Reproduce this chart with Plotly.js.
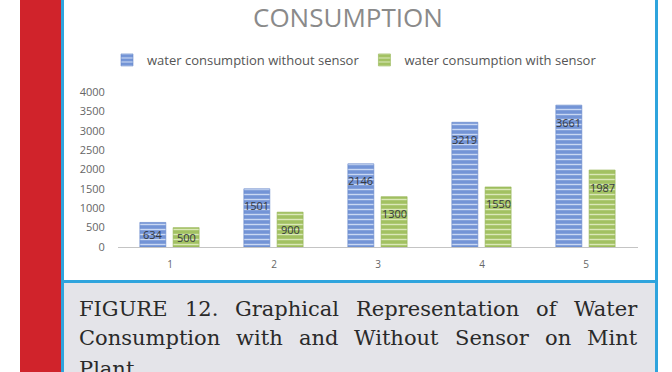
<!DOCTYPE html>
<html><head><meta charset="utf-8">
<script src="https://cdn.plot.ly/plotly-3.0.1.min.js"></script>
<style>html,body{margin:0;padding:0;background:#fff}#chart{width:672px;height:372px}</style>
</head><body><div id="chart"></div>
<script>
// ---- data ----
const categories = [1, 2, 3, 4, 5];
const tickLabels = ['1', '2', '3', '4', '5'];
const withoutSensor = [634, 1501, 2146, 3219, 3661];
const withSensor = [500, 900, 1300, 1550, 1987];
const seriesNames = ['water consumption without sensor', 'water consumption with sensor'];
const yTicks = [0, 500, 1000, 1500, 2000, 2500, 3000, 3500, 4000];
const yTickLabels = ['0', '500', '1000', '1500', '2000', '2500', '3000', '3500', '4000'];
const titleText = 'CONSUMPTION';
const captionLines = [
  'FIGURE 12. Graphical Representation of Water',
  'Consumption with and Without Sensor on Mint',
  'Plant'
];

// ---- layout geometry ----
const W = 672, H = 372;
const M = {l: 118, r: 34, t: 92, b: 125};
const PW = W - M.l - M.r, PH = H - M.t - M.b;
const px = x => (x - M.l) / PW;
const py = y => (H - M.b - y) / PH;
const Y_MAX = 4000;

const BAR_W = 0.25, OFF_A = -0.29, OFF_B = 0.03;
const blue = '#7394d6', green = '#a2c162';

const traces = [
  {type: 'bar', name: seriesNames[0], x: categories, y: withoutSensor,
   width: BAR_W, offset: OFF_A, hoverinfo: 'skip',
   marker: {color: blue, line: {color: '#6587c9', width: 0.6},
     pattern: {shape: '-', fgcolor: '#c9d8f3', bgcolor: blue, size: 5, solidity: 0.28}}},
  {type: 'bar', name: seriesNames[1], x: categories, y: withSensor,
   width: BAR_W, offset: OFF_B, hoverinfo: 'skip',
   marker: {color: green, line: {color: '#93b352', width: 0.6},
     pattern: {shape: '-', fgcolor: '#dbe8b8', bgcolor: green, size: 5, solidity: 0.28}}}
];

const annotations = [];
// value labels inside bars
const labelDrop = 17 * Y_MAX / PH;
[[withoutSensor, OFF_A], [withSensor, OFF_B]].forEach(([vals, off]) => {
  vals.forEach((v, i) => {
    annotations.push({xref: 'x', yref: 'y', x: categories[i] + off + BAR_W / 2,
      y: Math.max(v - labelDrop, v / 2), text: String(v), showarrow: false,
      font: {family: 'Open Sans', size: 11, color: '#34383f'}});
  });
});
// title
annotations.push({xref: 'paper', yref: 'paper', x: px(348), y: py(17.5), text: titleText,
  showarrow: false, xanchor: 'center', yanchor: 'middle',
  font: {family: 'Open Sans', size: 26, color: '#8a8a8a'}});

// caption (justified)
const capFont = {family: 'DejaVu Serif', size: 21, color: '#2a2a2a'};
const cv = document.createElement('canvas').getContext('2d');
cv.font = capFont.size + "px 'DejaVu Serif'";
const capL = 78, capR = 636, capCenters = [309, 338, 369];
captionLines.forEach((line, li) => {
  const words = line.split(' ');
  const last = li === captionLines.length - 1;
  const widths = words.map(w => cv.measureText(w).width);
  const sum = widths.reduce((a, b) => a + b, 0);
  const gap = (!last && words.length > 1) ? (capR - capL - sum) / (words.length - 1) : cv.measureText(' ').width;
  let x = capL;
  words.forEach((w, wi) => {
    annotations.push({xref: 'paper', yref: 'paper', x: px(x - 1), y: py(capCenters[li]), text: w,
      showarrow: false, xanchor: 'left', yanchor: 'middle', font: capFont});
    x += widths[wi] + gap;
  });
});

const rect = (x0, y0, x1, y1, color) => ({type: 'rect', xref: 'paper', yref: 'paper', layer: 'below',
  x0: px(x0), x1: px(x1), y0: py(y1), y1: py(y0), fillcolor: color, line: {width: 0}});
const shapes = [
  rect(20, 0, 61, 372, '#d0232b'),
  rect(64, 283, 655, 372, '#e4e4e9'),
  rect(61, 0, 64, 372, '#2fa4dd'),
  rect(655, 0, 658, 372, '#2fa4dd'),
  rect(61, 280, 658, 283, '#2fa4dd')
];

const layout = {
  width: W, height: H, margin: M,
  paper_bgcolor: '#ffffff', plot_bgcolor: 'rgba(0,0,0,0)',
  barmode: 'group', showlegend: true,
  legend: {orientation: 'h', x: px(107), y: py(60), xanchor: 'left', yanchor: 'middle',
    bgcolor: 'rgba(0,0,0,0)', font: {family: 'Open Sans', size: 13, color: '#555'}, itemwidth: 30},
  xaxis: {range: [0.5, 5.5], tickvals: categories, ticktext: tickLabels, showgrid: false, zeroline: false,
    showline: true, linecolor: '#c4c4c4', linewidth: 1, ticks: 'outside', ticklen: 8,
    tickcolor: 'rgba(0,0,0,0)', tickfont: {family: 'Open Sans', size: 10, color: '#666'}, fixedrange: true},
  yaxis: {range: [0, Y_MAX], tickvals: yTicks, ticktext: yTickLabels, showgrid: false, zeroline: false,
    showline: false, ticks: 'outside', ticklen: 10, tickcolor: 'rgba(0,0,0,0)',
    tickfont: {family: 'Open Sans', size: 11, color: '#666'}, fixedrange: true},
  annotations: annotations, shapes: shapes
};
Plotly.newPlot('chart', traces, layout, {staticPlot: true, displayModeBar: false});
</script></body></html>
